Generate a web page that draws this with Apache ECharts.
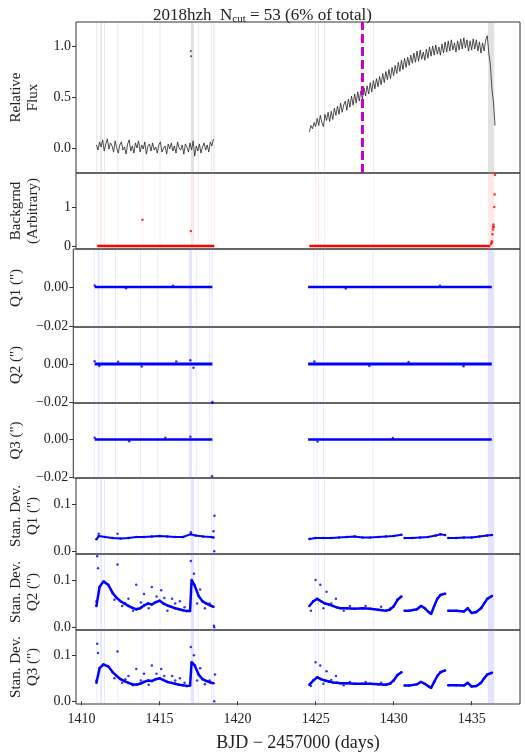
<!DOCTYPE html>
<html>
<head>
<meta charset="utf-8">
<script src="https://cdn.jsdelivr.net/npm/echarts@6/dist/echarts.min.js"></script>
<style>html,body{margin:0;padding:0;background:#fff}#chart{width:525px;height:753px}</style>
</head>
<body>
<div id="chart"></div>
<script>
// time ranges / ticks
var xMin = 1409.64, xMax = 1438.1
var xTicks = [1410, 1415, 1420, 1425, 1430, 1435]

// relative flux, regular cadence 0.1 d
var flux1Start = 1410.95
var flux1 = [0.03,-0.02,0.06,0.01,0.08,-0.03,0.04,0.09,-0.01,0.05,0.02,-0.04,0.07,0.0,-0.05,0.03,0.06,-0.02,0.01,-0.06,
  0.04,0.08,-0.03,0.02,-0.05,0.05,0.0,0.07,-0.04,0.03,-0.01,0.06,-0.06,0.02,0.04,-0.03,0.05,-0.02,0.01,-0.05,
  0.03,0.06,-0.04,0.0,0.02,-0.06,0.04,-0.01,0.05,-0.03,0.02,-0.05,0.06,0.0,-0.02,0.03,-0.06,0.04,0.01,-0.04,
  0.05,-0.02,0.07,-0.08,0.02,-0.03,0.04,-0.05,0.01,0.05,-0.02,0.03,-0.04,0.06,0.02,0.09]
var flux2Start = 1424.6
var flux2 = [0.16,0.22,0.19,0.25,
  0.21,0.29,0.22,0.32,0.25,0.21,0.33,0.27,0.35,0.26,
  0.36,0.28,0.39,0.32,0.41,0.33,0.44,0.35,0.42,0.46,
  0.37,0.48,0.40,0.51,0.42,0.53,0.44,0.55,0.46,0.56,
  0.48,0.59,0.51,0.61,0.53,0.64,0.55,0.66,0.58,0.68,
  0.60,0.70,0.62,0.73,0.64,0.75,0.67,0.77,0.68,0.79,
  0.71,0.81,0.73,0.84,0.75,0.86,0.77,0.88,0.79,0.89,
  0.81,0.91,0.83,0.93,0.84,0.95,0.85,0.96,0.87,0.94,
  0.86,0.97,0.88,0.99,0.90,1.00,0.91,1.01,0.92,0.99,
  0.91,1.02,0.93,1.04,0.94,1.05,0.95,1.06,0.96,1.03,
  0.94,1.05,0.96,1.07,0.97,1.08,0.98,1.06,0.95,1.05,
  0.96,1.07,0.97,1.06,0.95,1.04,0.93,1.03,0.95,1.06,
  1.10,0.93,0.82,0.58,0.45,0.22]
var fluxOutliers = [[1417.0, 0.95], [1417.02, 0.9]]
var eventTime = 1428.0

// background
var bkgLine = [[1411.0, 0], [1418.5, 0], null, [1424.6, 0], [1436.2, 0]]
var bkgPoints = [[1413.9, 0.67], [1417.0, 0.38], [1436.25, 0.05], [1436.3, 0.12], [1436.33, 0.3], [1436.36, 0.42],
  [1436.38, 0.5], [1436.4, 0.55], [1436.42, 0.48], [1436.45, 1.0], [1436.47, 1.32], [1436.5, 1.82], [1436.28, 0.08]]

// centroid offsets
var cenLine = [[1411.0, 0], [1418.5, 0], null, [1424.6, 0], [1436.3, 0]]
var q1Noise = [[1411.0, 0.0008], [1413.0, -0.0006], [1416.0, 0.0007], [1427.0, -0.0007], [1433.0, 0.0006]]
var q2Noise = [[1411.0, 0.0015], [1411.3, -0.001], [1412.5, 0.0012], [1414.0, -0.0013], [1416.2, 0.0014], [1417.1, 0.002],
  [1417.3, -0.002], [1425.0, 0.0013], [1428.5, -0.001], [1431.0, 0.0011], [1434.5, -0.0012], [1418.5, -0.02]]
var q3Noise = [[1411.0, 0.001], [1413.2, -0.0009], [1415.5, 0.001], [1417.1, 0.0015], [1425.2, -0.001], [1430.0, 0.0009],
  [1418.5, 0.0195], [1418.48, -0.0195]]

// standard deviations
var sd1 = [[1410.95,0.025],[1411.1,0.032],[1411.5,0.030],[1412.0,0.028],[1412.5,0.027],[1413.0,0.028],[1413.5,0.030],
  [1414.0,0.030],[1414.5,0.031],[1415.0,0.032],[1415.5,0.031],[1416.0,0.030],[1416.5,0.030],[1417.0,0.036],
  [1417.3,0.033],[1417.8,0.031],[1418.3,0.030],[1418.45,0.029], null,
  [1424.6,0.026],[1425.0,0.028],[1425.5,0.028],[1426.0,0.028],[1426.5,0.029],[1427.0,0.030],[1427.5,0.031],
  [1428.0,0.029],[1428.5,0.029],[1429.0,0.030],[1429.5,0.031],[1430.0,0.032],[1430.5,0.035], null,
  [1430.7,0.028],[1431.2,0.028],[1431.7,0.029],[1432.2,0.030],[1432.7,0.033],[1433.0,0.036],[1433.3,0.034], null,
  [1433.5,0.028],[1434.0,0.028],[1434.5,0.029],[1435.0,0.029],[1435.5,0.031],[1436.0,0.033],[1436.3,0.034]]
var sd1Out = [[1411.1, 0.037], [1412.3, 0.037], [1417.0, 0.04], [1418.5, 0.0], [1418.52, 0.075], [1418.45, 0.042]]

var sd2 = [[1410.95,0.045],[1411.15,0.085],[1411.4,0.097],[1411.7,0.09],[1412.0,0.072],[1412.25,0.062],[1412.5,0.055],
  [1412.75,0.05],[1413.0,0.045],[1413.25,0.041],[1413.5,0.038],[1413.75,0.040],[1414.0,0.046],[1414.25,0.050],
  [1414.5,0.048],[1414.75,0.053],[1415.0,0.056],[1415.25,0.050],[1415.5,0.046],[1415.75,0.043],[1416.0,0.040],
  [1416.25,0.038],[1416.5,0.036],[1416.75,0.034],[1416.95,0.034],[1417.05,0.1],[1417.25,0.088],[1417.5,0.066],
  [1417.75,0.055],[1418.0,0.05],[1418.25,0.046],[1418.45,0.043], null,
  [1424.6,0.045],[1424.85,0.055],[1425.1,0.06],[1425.35,0.055],[1425.6,0.05],[1425.85,0.048],[1426.1,0.045],
  [1426.35,0.042],[1426.6,0.040],[1427.0,0.040],[1427.5,0.039],[1428.0,0.040],[1428.5,0.039],[1429.0,0.037],
  [1429.5,0.035],[1429.75,0.037],[1430.0,0.044],[1430.25,0.058],[1430.5,0.065], null,
  [1430.7,0.035],[1431.0,0.035],[1431.5,0.038],[1431.75,0.045],[1432.0,0.040],[1432.25,0.032],[1432.4,0.028],
  [1432.6,0.045],[1432.8,0.060],[1433.0,0.068],[1433.3,0.071], null,
  [1433.5,0.035],[1434.0,0.035],[1434.5,0.033],[1434.75,0.040],[1435.0,0.030],[1435.3,0.032],[1435.6,0.040],
  [1435.8,0.050],[1436.0,0.060],[1436.3,0.066]]
var sd2Out = [[1411.0,0.15],[1411.05,0.125],[1410.95,0.055],[1412.3,0.133],[1413.5,0.09],[1414.5,0.085],[1415.1,0.078],
  [1414.0,0.07],[1413.0,0.06],[1415.8,0.06],[1416.3,0.055],[1417.0,0.14],[1417.2,0.113],[1417.6,0.08],[1418.5,0.0],
  [1418.48,0.003],[1413.3,0.035],[1414.8,0.065],[1416.0,0.05],[1412.8,0.05],[1415.5,0.035],[1425.0,0.1],[1425.3,0.09],
  [1425.7,0.075],[1426.3,0.06],[1424.7,0.035],[1426.8,0.035],[1428.2,0.045],[1429.2,0.043],[1412.1,0.058],
  [1412.6,0.045],[1413.8,0.052],[1414.3,0.04],[1415.3,0.062],[1416.6,0.042],[1417.4,0.05],[1417.9,0.04],
  [1418.2,0.05],[1425.5,0.04],[1426.0,0.05],[1427.2,0.045],[1429.8,0.04]]

var sd3 = [[1410.95,0.04],[1411.15,0.072],[1411.4,0.08],[1411.7,0.076],[1412.0,0.063],[1412.25,0.055],[1412.5,0.048],
  [1412.75,0.044],[1413.0,0.040],[1413.25,0.037],[1413.5,0.036],[1413.75,0.038],[1414.0,0.042],[1414.25,0.045],
  [1414.5,0.044],[1414.75,0.048],[1415.0,0.050],[1415.25,0.046],[1415.5,0.042],[1415.75,0.040],[1416.0,0.038],
  [1416.25,0.036],[1416.5,0.035],[1416.75,0.033],[1416.95,0.034],[1417.05,0.085],[1417.25,0.078],[1417.5,0.058],
  [1417.75,0.048],[1418.0,0.044],[1418.25,0.041],[1418.45,0.039], null,
  [1424.6,0.036],[1424.85,0.045],[1425.1,0.052],[1425.35,0.048],[1425.6,0.045],[1425.85,0.043],[1426.1,0.041],
  [1426.35,0.040],[1426.6,0.039],[1427.0,0.039],[1427.5,0.038],[1428.0,0.038],[1428.5,0.038],[1429.0,0.037],
  [1429.5,0.036],[1429.75,0.038],[1430.0,0.045],[1430.25,0.057],[1430.5,0.063], null,
  [1430.7,0.034],[1431.0,0.034],[1431.5,0.037],[1431.75,0.042],[1432.0,0.038],[1432.25,0.032],[1432.4,0.029],
  [1432.6,0.042],[1432.8,0.055],[1433.0,0.063],[1433.3,0.067], null,
  [1433.5,0.035],[1434.0,0.035],[1434.5,0.034],[1434.75,0.040],[1435.0,0.032],[1435.3,0.033],[1435.6,0.040],
  [1435.8,0.050],[1436.0,0.058],[1436.3,0.062]]
var sd3Out = [[1411.0,0.125],[1411.05,0.105],[1410.95,0.045],[1412.3,0.108],[1413.5,0.07],[1414.5,0.078],[1415.1,0.07],
  [1414.0,0.06],[1413.0,0.055],[1415.8,0.055],[1416.3,0.05],[1417.0,0.118],[1417.2,0.1],[1417.6,0.072],[1418.5,0.0],
  [1418.55,0.058],[1413.3,0.035],[1414.8,0.06],[1416.0,0.045],[1412.8,0.048],[1425.0,0.085],[1425.3,0.078],
  [1425.7,0.065],[1426.3,0.055],[1424.7,0.033],[1426.8,0.035],[1428.2,0.042],[1429.2,0.04],[1412.1,0.05],
  [1412.6,0.04],[1413.8,0.045],[1414.3,0.036],[1415.3,0.055],[1416.6,0.04],[1417.4,0.045],[1417.9,0.037],
  [1418.2,0.045],[1425.5,0.038],[1426.0,0.046],[1427.2,0.042],[1429.8,0.038]]

// flagged cadences (vertical bands)
var cutBands = [[1410.95,1411.0],[1411.2,1411.3],[1411.45,1411.5],[1412.3,1412.35],[1413.9,1413.95],[1415.0,1415.05],
  [1417.0,1417.2],[1417.45,1417.5],[1418.3,1418.35],[1418.45,1418.52],[1424.95,1425.0],[1425.15,1425.2],
  [1425.55,1425.6],[1428.7,1428.75],[1436.05,1436.45]]

var font = 'Liberation Serif'
var panels = [
  {top: 22, h: 151, name: 'Relative\nFlux', min: -0.245, max: 1.235, ticks: [0, 0.5, 1.0], fmt: 1, band: 'rgba(140,140,140,0.25)'},
  {top: 173, h: 76, name: 'Backgrnd\n(Arbitrary)', min: -0.08, max: 1.87, ticks: [0, 1], fmt: 0, band: 'rgba(255,140,140,0.2)'},
  {top: 249, h: 78, name: 'Q1 (")', min: -0.0205, max: 0.0195, ticks: [-0.02, 0], fmt: 2, band: 'rgba(120,120,255,0.2)'},
  {top: 327, h: 76, name: 'Q2 (")', min: -0.0205, max: 0.0195, ticks: [-0.02, 0], fmt: 2, band: 'rgba(120,120,255,0.2)'},
  {top: 403, h: 75, name: 'Q3 (")', min: -0.0205, max: 0.0195, ticks: [-0.02, 0], fmt: 2, band: 'rgba(120,120,255,0.2)'},
  {top: 478, h: 76, name: 'Stan. Dev.\nQ1 (")', min: -0.006, max: 0.155, ticks: [0, 0.1], fmt: 1, band: 'rgba(120,120,255,0.2)'},
  {top: 554, h: 76, name: 'Stan. Dev.\nQ2 (")', min: -0.006, max: 0.155, ticks: [0, 0.1], fmt: 1, band: 'rgba(120,120,255,0.2)'},
  {top: 630, h: 77, name: 'Stan. Dev.\nQ3 (")', min: -0.006, max: 0.155, ticks: [0, 0.1], fmt: 1, band: 'rgba(120,120,255,0.2)'}
]

function regular(start, step, vals) {
  return vals.map(function (v, i) { return [start + i * step, v] })
}

var grids = [], xAxes = [], yAxes = [], series = []
panels.forEach(function (p, i) {
  grids.push({left: 63, right: 5, top: p.top, height: p.h, show: true, borderColor: '#333', borderWidth: 1})
  var last = i === panels.length - 1
  xAxes.push({
    type: 'value', gridIndex: i, min: xMin, max: xMax,
    axisLine: {show: false}, splitLine: {show: false},
    axisTick: {show: last, customValues: xTicks, length: 4, lineStyle: {color: '#333'}},
    axisLabel: {show: last, customValues: xTicks, fontFamily: font, fontSize: 14, color: '#222',
      formatter: function (v) { return String(v) }},
    name: last ? 'BJD \u2212 2457000 (days)' : '', nameLocation: 'middle', nameGap: 30,
    nameTextStyle: {fontFamily: font, fontSize: 18, color: '#222'}
  })
  yAxes.push({
    type: 'value', gridIndex: i, min: p.min, max: p.max,
    axisLine: {show: false}, splitLine: {show: false},
    axisTick: {show: true, customValues: p.ticks, length: 4, lineStyle: {color: '#333'}},
    axisLabel: {customValues: p.ticks, fontFamily: font, fontSize: 14, color: '#222', margin: 5,
      formatter: function (v) { return v.toFixed(p.fmt).replace('-', '\u2212') }},
    name: p.name, nameLocation: 'middle', nameRotate: 90, nameGap: p.name.indexOf('\n') >= 0 ? 34 : 42,
    nameTextStyle: {fontFamily: font, fontSize: 15, color: '#222', lineHeight: 17}
  })
  series.push({
    type: 'line', xAxisIndex: i, yAxisIndex: i, data: [], silent: true,
    markArea: {silent: true, itemStyle: {color: p.band},
      data: cutBands.map(function (b) { return [{xAxis: b[0]}, {xAxis: b[1]}] })}
  })
})

var black = '#222', red = '#f00', blue = '#00f'
function line(i, data, color, w, sym) {
  series.push({type: 'line', xAxisIndex: i, yAxisIndex: i, data: data, connectNulls: false,
    showSymbol: !!sym, symbol: 'circle', symbolSize: sym || 0, itemStyle: {color: color},
    lineStyle: {color: color, width: w}, animation: false})
}
function dots(i, data, color, size) {
  series.push({type: 'scatter', xAxisIndex: i, yAxisIndex: i, data: data, symbolSize: size,
    itemStyle: {color: color}, animation: false})
}

line(0, regular(flux1Start, 0.1, flux1), black, 0.8)
line(0, regular(flux2Start, 0.1, flux2), black, 0.8)
dots(0, fluxOutliers, black, 2)
series.push({type: 'line', xAxisIndex: 0, yAxisIndex: 0, data: [], markLine: {silent: true, symbol: 'none',
  label: {show: false}, lineStyle: {color: '#c0c', type: [9, 4], width: 3}, data: [{xAxis: eventTime}]}})

line(1, bkgLine, red, 2.5)
dots(1, bkgPoints, red, 2.5)

line(2, cenLine, blue, 2.5); dots(2, q1Noise, blue, 2.5)
line(3, cenLine, blue, 3); dots(3, q2Noise, blue, 2.5)
line(4, cenLine, blue, 2.5); dots(4, q3Noise, blue, 2.5)

line(5, sd1, blue, 2, 2.5); dots(5, sd1Out, blue, 2.5)
line(6, sd2, blue, 2.5, 2.5); dots(6, sd2Out, blue, 2.5)
line(7, sd3, blue, 2.5, 2.5); dots(7, sd3Out, blue, 2.5)

var chart = echarts.init(document.getElementById('chart'))
chart.setOption({
  animation: false,
  title: {
    text: '{a|2018hzh  N}{s|cut}{a| = 53 (6% of total)}', left: 'center', top: 1,
    textStyle: {fontWeight: 'normal', rich: {
      a: {fontFamily: font, fontSize: 17, color: '#222', fontWeight: 'normal'},
      s: {fontFamily: font, fontSize: 11, color: '#222', fontWeight: 'normal', verticalAlign: 'bottom', padding: [8, 0, 0, 0]}
    }}
  },
  grid: grids, xAxis: xAxes, yAxis: yAxes, series: series
})
</script>
</body>
</html>
